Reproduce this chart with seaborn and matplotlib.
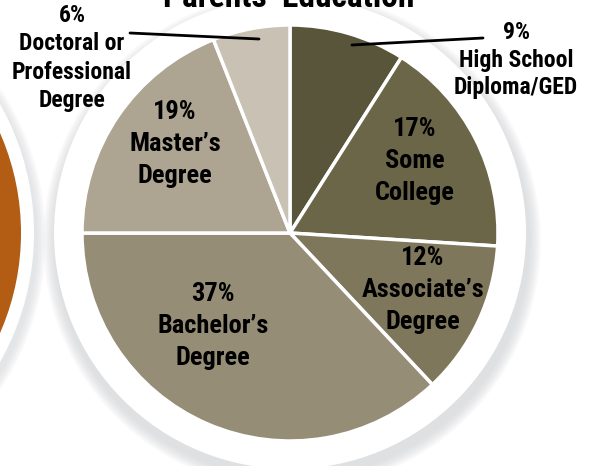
import numpy as np
import matplotlib
matplotlib.use("Agg")
import matplotlib.pyplot as plt
import seaborn as sns
from matplotlib import font_manager
from matplotlib.patches import Circle

# Data

categories = ["High School\nDiploma/GED", "Some\nCollege", "Associate\u2019s\nDegree",
              "Bachelor\u2019s\nDegree", "Master\u2019s\nDegree", "Doctoral or\nProfessional\nDegree"]
shares = [9, 17, 12, 37, 19, 6]
colors = ["#59553a", "#6c6649", "#7f775c", "#968d77", "#ada591", "#c9c1b3"]
title = "Parents\u2019 Education"

sns.set_theme(style="white")

# pick a narrow font if one is there
names = {f.name for f in font_manager.fontManager.ttflist}
narrow = [n for n in ["Liberation Sans Narrow", "DejaVu Sans Condensed", "Roboto Condensed",
                      "Open Sans Condensed", "Liberation Sans"] if n in names]
plt.rcParams["font.family"] = narrow[:1] + ["DejaVu Sans"]
plt.rcParams["font.stretch"] = "condensed"

fig = plt.figure(figsize=(5.96, 4.66), dpi=100)
ax = fig.add_axes([0, 0, 1, 1])

cx, cy, r = 290, 233, 208

# Orange circle on the left with soft shadow
for k in range(10):
    ax.add_patch(Circle((-228 + 2, cy - 6), 262 + 10 - k, color="#d5d7da", alpha=0.08, lw=0, zorder=0))
ax.add_patch(Circle((-228, cy), 262, color="white", lw=0, zorder=1))
ax.add_patch(Circle((-228, cy), 249, color="#b35c13", lw=0, zorder=2))

# White disc behind the pie with shadow
for k in range(12):
    ax.add_patch(Circle((cx + 2, cy - 8), 237 + 12 - k, color="#c9cbcf", alpha=0.06, lw=0, zorder=3))
ax.add_patch(Circle((cx, cy), 236, color="white", lw=0, zorder=4))

# Pie
wedges, _ = ax.pie(
    shares,
    colors=colors,
    startangle=90,
    counterclock=False,
    center=(cx, cy),
    radius=r,
    wedgeprops=dict(edgecolor="white", linewidth=2.5),
    frame=True,
)
for w in wedges:
    w.set_zorder(5)
ax.set_xlim(0, 596)
ax.set_ylim(0, 466)
ax.set_aspect("equal")
ax.axis("off")

# Labels inside the pie
inside = {1: (415, 161), 2: (423, 290), 3: (213, 326), 4: (175, 144)}
for i, (x, y) in inside.items():
    ax.text(x, 466 - y, f"{shares[i]}%\n{categories[i]}", ha="center", va="center",
            fontsize=19, fontweight="bold", color="black", linespacing=1.4, zorder=6)

# Labels outside with leader lines
ax.text(516, 466 - 60, f"{shares[0]}%\n{categories[0]}", ha="center", va="center",
        fontsize=17, fontweight="bold", color="black", linespacing=1.27, zorder=6)
ax.plot([352, 483], [466 - 45, 466 - 38], color="black", lw=2, zorder=6)

ax.text(72, 466 - 58, f"{shares[5]}%\n{categories[5]}", ha="center", va="center",
        fontsize=17, fontweight="bold", color="black", linespacing=1.3, zorder=6)
ax.plot([130, 259], [466 - 33, 466 - 39], color="black", lw=2, zorder=6)

# Title, cut at the top
ax.text(289, 466 - 7, title, ha="center", va="baseline", fontsize=24,
        fontweight="bold", color="black", zorder=6)

fig.savefig("out.png", dpi=100)
